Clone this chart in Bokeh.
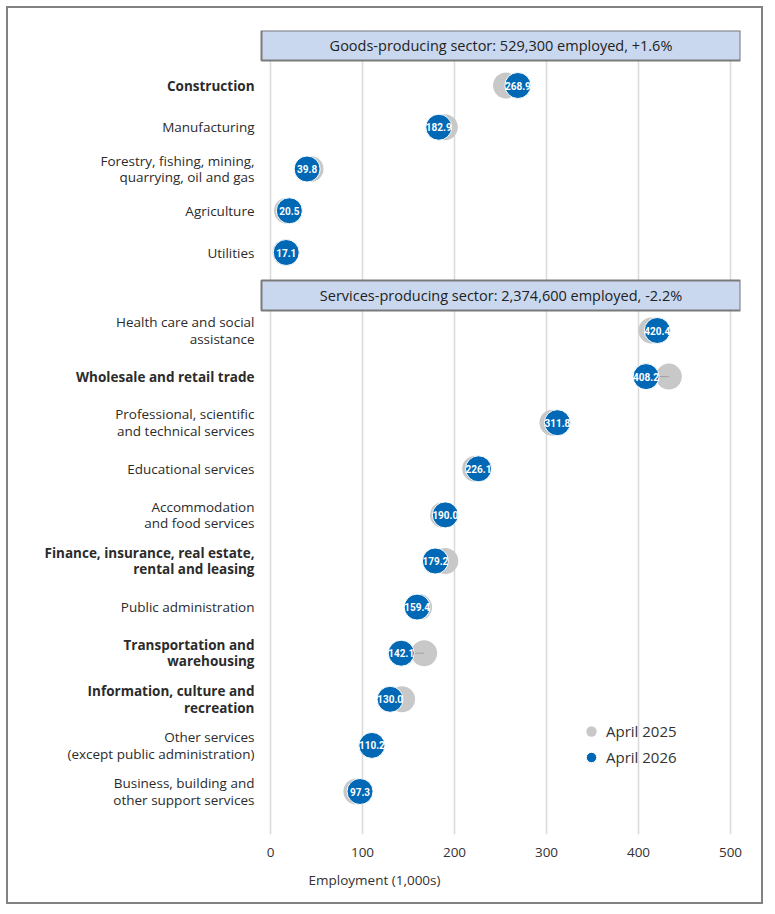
from bokeh.plotting import figure
from bokeh.models import Range1d, FixedTicker, ColumnDataSource, Legend, LegendItem
from bokeh.core.properties import value
from bokeh.embed import file_html
from bokeh.resources import INLINE

# ---------------- data ----------------
goods_sectors = [
    "Construction",
    "Manufacturing",
    "Forestry, fishing, mining,\nquarrying, oil and gas",
    "Agriculture",
    "Utilities",
]
goods_2025 = [256.0, 189.5, 43.5, 18.0, 16.3]
goods_2026 = [268.9, 182.9, 39.8, 20.5, 17.1]

services_sectors = [
    "Health care and social\nassistance",
    "Wholesale and retail trade",
    "Professional, scientific\nand technical services",
    "Educational services",
    "Accommodation\nand food services",
    "Finance, insurance, real estate,\nrental and leasing",
    "Public administration",
    "Transportation and\nwarehousing",
    "Information, culture and\nrecreation",
    "Other services\n(except public administration)",
    "Business, building and\nother support services",
]
services_2025 = [414.0, 433.0, 306.5, 222.5, 187.5, 190.0, 161.5, 167.0, 143.0, 110.0, 93.3]
services_2026 = [420.4, 408.2, 311.8, 226.1, 190.0, 179.2, 159.4, 142.1, 130.0, 110.2, 97.3]

highlighted = [
    "Construction",
    "Wholesale and retail trade",
    "Finance, insurance, real estate,\nrental and leasing",
    "Transportation and\nwarehousing",
    "Information, culture and\nrecreation",
]

sector_titles = ["Goods-producing sector", "Services-producing sector"]
sector_employed = [529300, 2374600]
sector_change = [1.6, -2.2]

x_ticks = [0, 100, 200, 300, 400, 500]
series_names = ["April 2025", "April 2026"]

# ---------------- layout ----------------
W, H = 757, 898
BORDER_L, BORDER_R, BORDER_T, BORDER_B = 0, 25, 22, 72
frame_w = W - BORDER_L - BORDER_R
frame_h = H - BORDER_T - BORDER_B
PX = 0.92                      # pixels per data unit
zero_px = 262                  # pixel offset of x=0 from frame left
x_start = -zero_px / PX
x_end = (frame_w - zero_px) / PX
header_left = -9 / PX
label_x = -16 / PX

header_h = 30
goods_header_top = 0
goods_y0, goods_step = 55, 41.75
services_header_top = 250
services_y0, services_step = 300, 46.1

GRAY = "#c8c8c8"
BLUE = "#0068b4"
FONT = "Open Sans"
NARROW = "Roboto"

p = figure(width=W, height=H, output_backend="svg", toolbar_location=None,
           x_range=Range1d(x_start, x_end), y_range=Range1d(frame_h, 0),
           min_border_left=BORDER_L, min_border_right=BORDER_R,
           min_border_top=BORDER_T, min_border_bottom=BORDER_B)
p.styles = {"border": "2px solid #828282", "margin-left": "6px", "margin-top": "6px"}
p.outline_line_color = None
p.background_fill_color = "white"
p.border_fill_color = "white"

p.yaxis.visible = False
p.ygrid.visible = False
p.xgrid.ticker = FixedTicker(ticks=x_ticks)
p.xgrid.grid_line_color = "#d9d9d9"
p.xgrid.grid_line_width = 1.5
p.xaxis.ticker = FixedTicker(ticks=x_ticks)
p.xaxis.axis_line_color = None
p.xaxis.major_tick_line_color = None
p.xaxis.minor_tick_line_color = None
p.xaxis.major_label_text_font = FONT
p.xaxis.major_label_text_font_size = "13.5px"
p.xaxis.major_label_text_color = "#333333"
p.xaxis.major_label_standoff = 7
p.xaxis.axis_label = "Employment (1,000s)"
p.xaxis.axis_label_text_font = FONT
p.xaxis.axis_label_text_font_size = "13.5px"
p.xaxis.axis_label_text_font_style = "normal"
p.xaxis.axis_label_text_color = "#333333"
p.xaxis.axis_label_standoff = 11

# rows
names = goods_sectors + services_sectors
v25 = goods_2025 + services_2025
v26 = goods_2026 + services_2026
ys = [goods_y0 + i * goods_step for i in range(len(goods_sectors))] + \
     [services_y0 + i * services_step for i in range(len(services_sectors))]

src = ColumnDataSource(dict(
    name=names, v25=v25, v26=v26, y=ys,
    lbl=[f"{v:.1f}" for v in v26],
    style=["bold" if n in highlighted else "normal" for n in names],
    lx=[label_x] * len(names),
))

# headers
hdr = ColumnDataSource(dict(
    top=[goods_header_top, services_header_top],
    bottom=[goods_header_top + header_h, services_header_top + header_h],
    left=[header_left] * 2, right=[x_end] * 2,
    cx=[(header_left + x_end) / 2] * 2,
    cy=[goods_header_top + header_h / 2, services_header_top + header_h / 2],
    text=[f"{t}: {e:,} employed, {c:+.1f}%" for t, e, c in zip(sector_titles, sector_employed, sector_change)],
))
p.quad(left="left", right="right", top="top", bottom="bottom", source=hdr,
       fill_color="#c9d8ef", line_color="#7a7a7a", line_width=2)
p.text(x="cx", y="cy", text="text", source=hdr, text_align="center", text_baseline="middle",
       text_font=value(FONT), text_font_size="14.5px", text_color="#222222")

r25 = p.scatter(x="v25", y="y", source=src, size=26, fill_color=GRAY, line_color=None)
p.segment(x0="v26", y0="y", x1="v25", y1="y", source=src, line_color="#a0a0a0", line_width=1)
r26 = p.scatter(x="v26", y="y", source=src, size=26, fill_color=BLUE, line_color="white", line_width=1)
p.text(x="v26", y="y", text="lbl", source=src, text_align="center", text_baseline="middle",
       text_font=value(NARROW), text_font_style="bold", text_font_size="10px", text_color="white")

p.text(x="lx", y="y", text="name", source=src, text_align="right", text_baseline="middle",
       text_font=value(FONT), text_font_style="style", text_font_size="13.5px",
       text_color="#2b2b2b", text_line_height=0.92)

legend = Legend(items=[LegendItem(label=series_names[0], renderers=[r25]),
                       LegendItem(label=series_names[1], renderers=[r26])],
                location=(570, 64), orientation="vertical",
                glyph_width=26, glyph_height=26, spacing=0, padding=0, margin=0,
                label_standoff=2, label_text_font=FONT, label_text_font_size="15px",
                label_text_color="#333333", background_fill_alpha=0, border_line_color=None)
p.add_layout(legend)

open("out.html", "w").write(file_html(p, INLINE))
